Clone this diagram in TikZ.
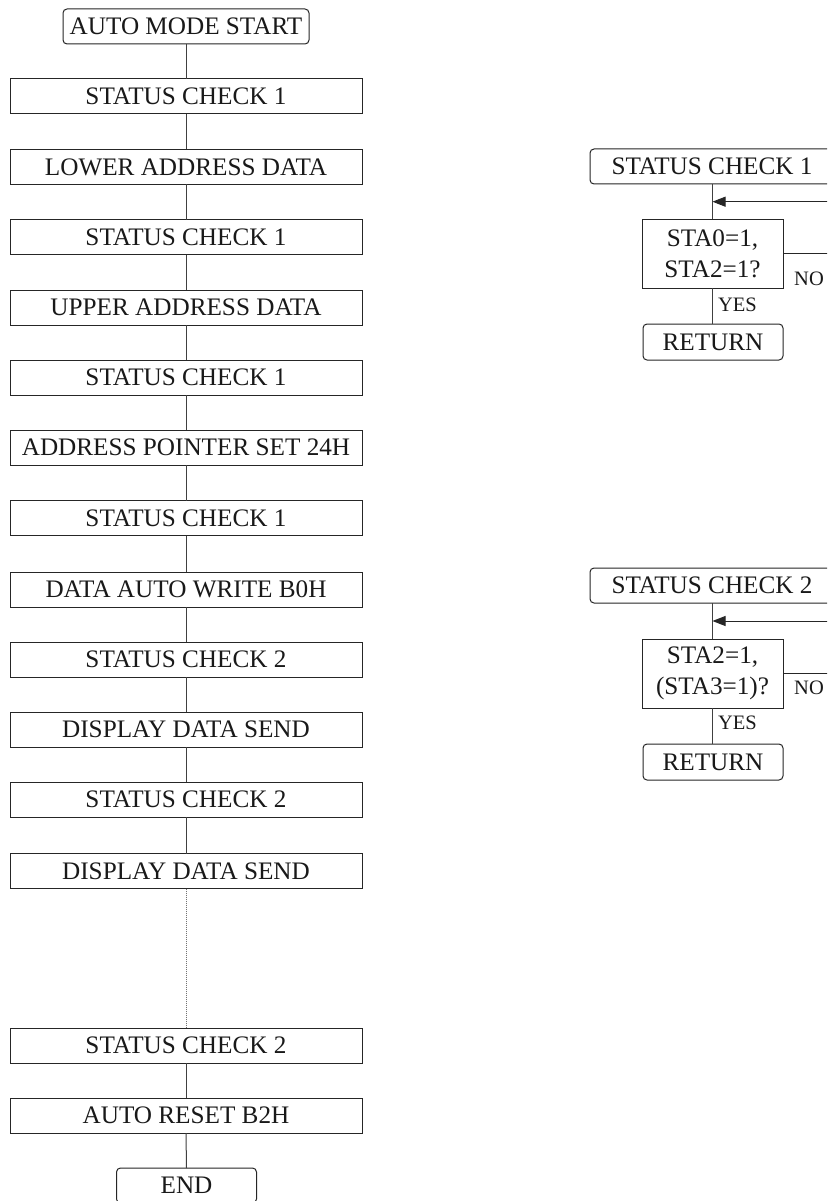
\documentclass[tikz,border=0pt]{standalone}
\usepackage{fontspec}
\setmainfont{Liberation Serif}
\usetikzlibrary{arrows.meta}
\begin{document}
\begin{tikzpicture}[x=1pt,y=-1pt,
  every node/.style={inner sep=0pt,outer sep=0pt,font=\fontsize{25.2}{31}\selectfont,text=black!90},
  boxstep/.style={draw=black!85,line width=1pt,minimum width=352pt,minimum height=35pt},
  termbox/.style={draw=black!85,line width=1pt,rounded corners=4pt,minimum height=35pt},
  decbox/.style={draw=black!85,line width=1pt,minimum width=141pt,minimum height=69pt,align=center},
  smalllbl/.style={font=\fontsize{20.5}{22}\selectfont},
  conn/.style={draw=black!75,line width=1pt},
  dotconn/.style={draw=black!55,line width=0.8pt,dash pattern=on 1pt off 1pt},
  looparrow/.style={draw=black!85,line width=1pt,-{Triangle[length=13pt,width=10pt]}}]
\clip (0,0) rectangle (827,1201);
\fill[white] (0,0) rectangle (827,1201);
% main column
\node[termbox,minimum width=246pt] (n1) at (186,26.5) {AUTO MODE START};
\node[boxstep] (n2) at (186,96.5) {STATUS CHECK 1};
\node[boxstep] (n3) at (186,167) {LOWER ADDRESS DATA};
\node[boxstep] (n4) at (186,237) {STATUS CHECK 1};
\node[boxstep] (n5) at (186,307.5) {UPPER ADDRESS DATA};
\node[boxstep] (n6) at (186,377.5) {STATUS CHECK 1};
\node[boxstep] (n7) at (186,447.5) {ADDRESS POINTER SET 24H};
\node[boxstep] (n8) at (186,518) {STATUS CHECK 1};
\node[boxstep] (n9) at (186,589.5) {DATA AUTO WRITE B0H};
\node[boxstep] (n10) at (186,659.5) {STATUS CHECK 2};
\node[boxstep] (n11) at (186,729.5) {DISPLAY DATA SEND};
\node[boxstep] (n12) at (186,799.5) {STATUS CHECK 2};
\node[boxstep] (n13) at (186,871) {DISPLAY DATA SEND};
\node[boxstep] (n14) at (186,1045.5) {STATUS CHECK 2};
\node[boxstep] (n15) at (186,1115.5) {AUTO RESET B2H};
\node[termbox,minimum width=140pt] (n16) at (186.5,1185.5) {END};
\foreach \a/\b in {n1/n2,n2/n3,n3/n4,n4/n5,n5/n6,n6/n7,n7/n8,n8/n9,n9/n10,n10/n11,n11/n12,n12/n13,n14/n15,n15/n16}
  \draw[conn] (\a.south) -- (\b.north);
\draw[dotconn] (n13.south) -- (n14.north);
% right chart 1
\node[termbox,minimum width=244pt] (h1) at (712,166.5) {STATUS CHECK 1};
\node[decbox] (d1) at (712.5,253.5) {STA0=1,\\STA2=1?};
\node[termbox,minimum width=140pt,minimum height=36pt] (r1) at (713,342) {RETURN};
\coordinate (j1) at (712.5,201.7);
\coordinate (e1) at (850,253.5);
\draw[conn] (h1.south -| d1.north) -- (d1.north);
\draw[conn] (d1.south) -- (r1.north -| d1.south);
\draw[looparrow] (d1.east) -- (e1) |- (j1);
\node[smalllbl] (no1) at (809,279) {NO};
\node[smalllbl,anchor=west] (yes1) at (718,305) {YES};
% right chart 2
\node[termbox,minimum width=244pt] (h2) at (712,585.5) {STATUS CHECK 2};
\node[decbox] (d2) at (712.5,673.5) {STA2=1,\\(STA3=1)?};
\node[termbox,minimum width=140pt,minimum height=36pt] (r2) at (713,762) {RETURN};
\coordinate (j2) at (712.5,621);
\coordinate (e2) at (850,673.5);
\draw[conn] (h2.south -| d2.north) -- (d2.north);
\draw[conn] (d2.south) -- (r2.north -| d2.south);
\draw[looparrow] (d2.east) -- (e2) |- (j2);
\node[smalllbl] (no2) at (809,688) {NO};
\node[smalllbl,anchor=west] (yes2) at (718,723) {YES};
\end{tikzpicture}
\end{document}
